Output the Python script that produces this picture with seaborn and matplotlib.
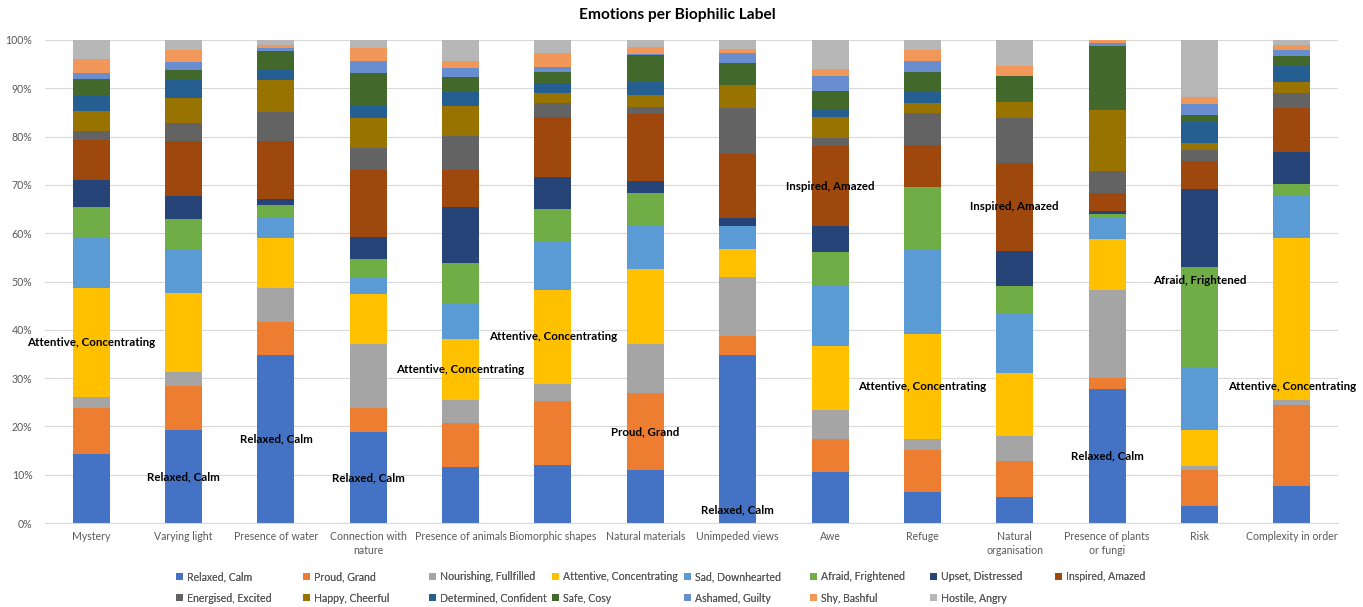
import numpy as np
import pandas as pd
import matplotlib
matplotlib.use("Agg")
import matplotlib.pyplot as plt
from matplotlib.patches import Patch
from matplotlib.ticker import PercentFormatter
import seaborn as sns

# Biophilic labels (x categories) and their wrapped tick labels
categories = ["Mystery", "Varying light", "Presence of water", "Connection with nature",
              "Presence of animals", "Biomorphic shapes", "Natural materials",
              "Unimpeded views", "Awe", "Refuge", "Natural organisation",
              "Presence of plants or fungi", "Risk", "Complexity in order"]
tick_labels = ["Mystery", "Varying light", "Presence of water", "Connection with\nnature",
               "Presence of animals", "Biomorphic shapes", "Natural materials",
               "Unimpeded views", "Awe", "Refuge", "Natural\norganisation",
               "Presence of plants\nor fungi", "Risk", "Complexity in order"]

# Share of each emotion per label (percent)
relaxed_calm = [14.3, 19.2, 34.8, 18.8, 11.5, 12.1, 11.0, 34.8, 10.5, 6.4, 5.4, 27.7, 3.6, 7.7]
proud_grand = [9.6, 9.2, 6.9, 5.0, 9.3, 13.1, 16.0, 4.0, 6.9, 8.8, 7.4, 2.3, 7.4, 16.8]
nourishing_fulfilled = [2.2, 2.8, 6.9, 13.3, 4.7, 3.6, 10.2, 12.2, 6.0, 2.2, 5.3, 18.3, 0.7, 1.0]
attentive_concentrating = [22.5, 16.5, 10.4, 10.3, 12.6, 19.5, 15.4, 5.8, 13.2, 21.8, 12.9, 10.5, 7.6, 33.5]
sad_downhearted = [10.6, 9.1, 4.2, 3.6, 7.3, 9.8, 9.0, 4.6, 12.6, 17.4, 12.4, 4.5, 13.1, 8.9]
afraid_frightened = [6.3, 6.1, 2.7, 3.7, 8.5, 6.9, 6.8, 0.0, 7.0, 12.9, 5.7, 0.6, 20.6, 2.3]
upset_distressed = [5.5, 4.9, 1.2, 4.5, 11.6, 6.6, 2.6, 1.8, 5.2, 0.0, 7.3, 0.6, 16.1, 6.7]
inspired_amazed = [8.2, 11.2, 11.9, 13.8, 7.5, 12.5, 13.8, 13.2, 16.7, 8.8, 18.2, 3.9, 5.9, 9.0]
energised_excited = [2.0, 3.8, 6.0, 4.6, 7.2, 2.9, 1.4, 9.6, 1.7, 6.5, 9.2, 4.4, 2.2, 3.1]
happy_cheerful = [4.0, 5.2, 6.7, 6.3, 6.1, 2.0, 2.6, 4.7, 4.3, 2.2, 3.4, 12.7, 1.4, 2.4]
determined_confident = [3.3, 3.7, 2.0, 2.5, 3.0, 2.2, 2.7, 0.0, 1.6, 2.2, 0.0, 0.0, 4.5, 3.2]
safe_cosy = [3.4, 2.0, 4.1, 6.8, 3.1, 2.2, 5.6, 4.6, 3.7, 4.2, 5.4, 13.3, 1.4, 2.1]
ashamed_guilty = [1.3, 1.8, 0.5, 2.5, 1.9, 1.1, 0.2, 2.1, 3.2, 2.3, 0.0, 0.6, 2.3, 1.2]
shy_bashful = [2.9, 2.4, 0.7, 2.7, 1.4, 2.9, 1.5, 0.7, 1.3, 2.2, 2.0, 0.5, 1.3, 1.1]
hostile_angry = [3.9, 2.1, 1.0, 1.6, 4.3, 2.6, 1.4, 1.9, 6.1, 2.1, 5.4, 0.1, 11.9, 1.0]

emotions = ["Relaxed, Calm", "Proud, Grand", "Nourishing, Fullfilled", "Attentive, Concentrating",
            "Sad, Downhearted", "Afraid, Frightened", "Upset, Distressed", "Inspired, Amazed",
            "Energised, Excited", "Happy, Cheerful", "Determined, Confident", "Safe, Cosy",
            "Ashamed, Guilty", "Shy, Bashful", "Hostile, Angry"]
series = [relaxed_calm, proud_grand, nourishing_fulfilled, attentive_concentrating,
          sad_downhearted, afraid_frightened, upset_distressed, inspired_amazed,
          energised_excited, happy_cheerful, determined_confident, safe_cosy,
          ashamed_guilty, shy_bashful, hostile_angry]
colors = ["#4472C4", "#ED7D31", "#A5A5A5", "#FFC000", "#5B9BD5", "#70AD47", "#264478",
          "#9E480E", "#636363", "#997300", "#255E91", "#43682B", "#698ED0", "#F1975A", "#B7B7B7"]

# Highlighted segments: (label, emotion, where inside the segment the name sits)
callouts = [("Mystery", "Attentive, Concentrating", "center"),
            ("Varying light", "Relaxed, Calm", "center"),
            ("Presence of water", "Relaxed, Calm", "center"),
            ("Connection with nature", "Relaxed, Calm", "center"),
            ("Presence of animals", "Attentive, Concentrating", "center"),
            ("Biomorphic shapes", "Attentive, Concentrating", "center"),
            ("Natural materials", "Proud, Grand", "center"),
            ("Unimpeded views", "Relaxed, Calm", "base"),
            ("Awe", "Inspired, Amazed", "center"),
            ("Refuge", "Attentive, Concentrating", "center"),
            ("Natural organisation", "Inspired, Amazed", "center"),
            ("Presence of plants or fungi", "Relaxed, Calm", "center"),
            ("Risk", "Afraid, Frightened", "end"),
            ("Complexity in order", "Attentive, Concentrating", "base")]

# 100% stacked shares
values = np.array(series, dtype=float)
shares = values / values.sum(axis=0, keepdims=True)
bottoms = np.vstack([np.zeros(len(categories)), np.cumsum(shares, axis=0)[:-1]])

sns.set_theme(style="white")
plt.rcParams["font.family"] = ["Lato", "DejaVu Sans"]

fig = plt.figure(figsize=(13.63, 6.07), dpi=100)
ax = fig.add_axes([45 / 1363, 1 - 523 / 607, 1293 / 1363, 483 / 607])

for i, emo in enumerate(emotions):
    df = pd.DataFrame({"label": categories, "share": shares[i]})
    sns.barplot(data=df, x="label", y="share", order=categories, color=colors[i],
                saturation=1, width=0.4, errorbar=None, bottom=bottoms[i],
                linewidth=0, ax=ax)

ax.set_ylim(0, 1)
ax.set_xlim(-0.5, len(categories) - 0.5)
ax.set_yticks(np.linspace(0, 1, 11))
ax.yaxis.set_major_formatter(PercentFormatter(1.0, decimals=0))
ax.set_xticks(range(len(categories)))
ax.set_xticklabels(tick_labels, fontsize=7.6, color="#595959", linespacing=1.35)
ax.tick_params(axis="y", labelsize=7.6, labelcolor="#595959", length=0, pad=9)
ax.tick_params(axis="x", length=0, pad=6)
ax.set_xlabel("")
ax.set_ylabel("")
ax.grid(axis="y", color="#D9D9D9", linewidth=0.8)
ax.set_axisbelow(True)
for side in ["left", "right", "top"]:
    ax.spines[side].set_visible(False)
ax.spines["bottom"].set_color("#D9D9D9")
ax.spines["bottom"].set_linewidth(0.8)

# Series-name callouts
for cat, emo, where in callouts:
    ci = categories.index(cat)
    si = emotions.index(emo)
    lo = bottoms[si, ci]
    hi = lo + shares[si, ci]
    if where == "center":
        y, dy = (lo + hi) / 2, 0
    elif where == "base":
        y, dy = lo, 9.4
    else:
        y, dy = hi, -9.4
    ax.annotate(emo, xy=(ci, y), xytext=(0, dy), textcoords="offset points",
                ha="center", va="center", fontsize=8.3, fontweight="bold",
                color="black", zorder=5)

fig.text(0.497, 1 - 15 / 607, "Emotions per Biophilic Label", ha="center", va="center",
         fontsize=11.2, fontweight="bold", color="black")

# Legend laid out in fixed-width columns, two rows
col_x = [179, 306, 432, 555, 687, 813, 933, 1058]
row_y = [577, 598]
for i, emo in enumerate(emotions):
    r, c = divmod(i, 8)
    leg = fig.legend(handles=[Patch(facecolor=colors[i], edgecolor="none")], labels=[emo],
                     loc="center left", bbox_to_anchor=(col_x[c] / 1363 - 0.002, 1 - row_y[r] / 607),
                     frameon=False, fontsize=7.6, handlelength=0.65, handleheight=0.65,
                     handletextpad=0.35, borderpad=0, borderaxespad=0, labelcolor="#595959")
    fig.add_artist(leg)

fig.savefig("out.png", dpi=100, facecolor="white")
